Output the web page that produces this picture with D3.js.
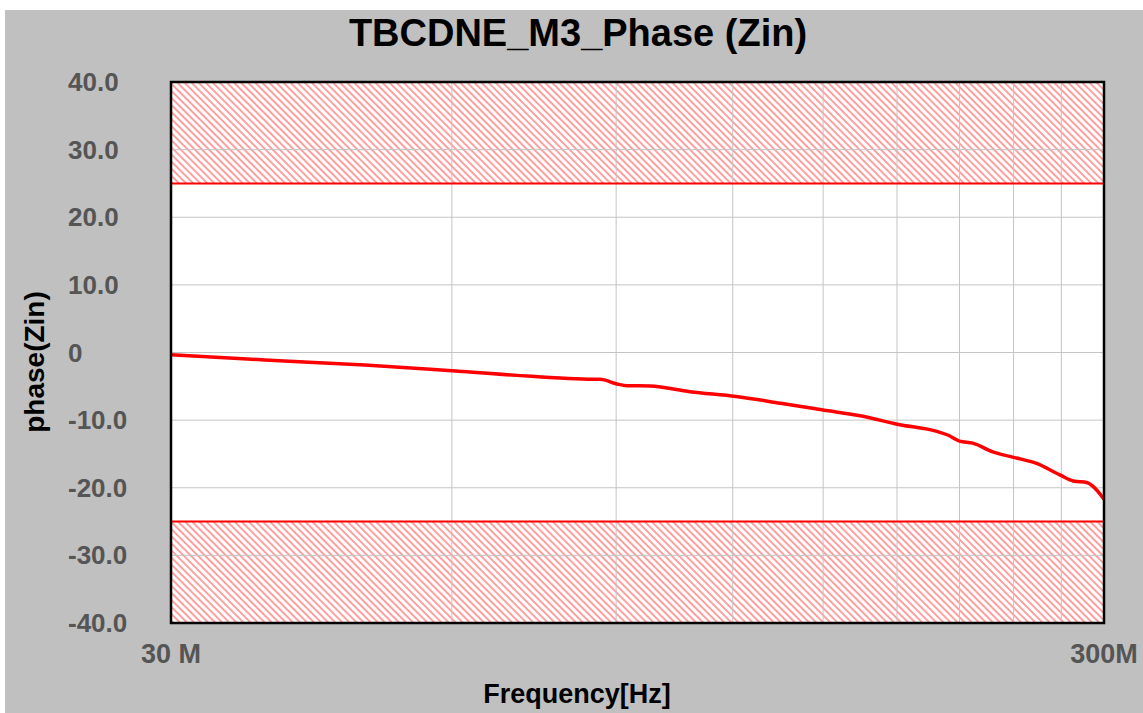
<!DOCTYPE html>
<html>
<head>
<meta charset="utf-8">
<script src="https://cdn.jsdelivr.net/npm/d3@7"></script>
<style>
html,body{margin:0;padding:0;background:#fff;}
svg{display:block;font-family:"Liberation Sans",Arial,sans-serif;}
</style>
</head>
<body>
<svg id="chart" width="1143" height="713"></svg>
<script>
// ---- data ----
const titleText = "TBCDNE_M3_Phase (Zin)";
const xTitle = "Frequency[Hz]";
const yTitle = "phase(Zin)";
const freqMHz = [30, 37.8, 48.4, 60, 76.4, 83.8, 86.5, 90.2, 92.5, 97.9, 108, 121, 135, 150, 165, 180, 199, 204, 210, 217, 228, 240, 254, 269, 278, 288, 292, 300];
const phaseDeg = [-0.35, -1.1, -1.85, -2.7, -3.7, -3.95, -3.95, -4.65, -4.9, -4.95, -5.8, -6.5, -7.5, -8.5, -9.4, -10.6, -11.7, -12.2, -13.1, -13.4, -14.7, -15.5, -16.4, -18.1, -19.0, -19.25, -19.8, -21.7];
const yTicks = [40, 30, 20, 10, 0, -10, -20, -30, -40];
const yTickLabels = ["40.0", "30.0", "20.0", "10.0", "0", "-10.0", "-20.0", "-30.0", "-40.0"];
const xGridMHz = [60, 90, 120, 150, 180, 210, 240, 270];
const xTickMHz = [30, 300];
const xTickLabels = ["30 M", "300M"];
const limitUpper = 25, limitLower = -25;

// ---- layout ----
const svg = d3.select("#chart");
const L = 171, R = 1104, T = 82, B = 623;
const x = d3.scaleLog().domain([30e6, 300e6]).range([L, R]);
const y = d3.scaleLinear().domain([-40, 40]).range([B, T]);

// background
svg.append("rect").attr("x", 5).attr("y", 10).attr("width", 1138).attr("height", 703).attr("fill", "#c0c0c0");
svg.append("rect").attr("x", L).attr("y", T).attr("width", R - L).attr("height", B - T).attr("fill", "#fff");

// hatch pattern
const defs = svg.append("defs");
const pat = defs.append("pattern").attr("id", "hatch").attr("patternUnits", "userSpaceOnUse")
  .attr("width", 5).attr("height", 5).attr("patternTransform", "rotate(-45)");
pat.append("line").attr("x1", 2).attr("y1", 0).attr("x2", 2).attr("y2", 5)
  .attr("stroke", "#ff3030").attr("stroke-width", 1.1).attr("stroke-opacity", 0.85);

svg.append("rect").attr("x", L).attr("y", y(40)).attr("width", R - L).attr("height", y(limitUpper) - y(40)).attr("fill", "url(#hatch)");
svg.append("rect").attr("x", L).attr("y", y(limitLower)).attr("width", R - L).attr("height", y(-40) - y(limitLower)).attr("fill", "url(#hatch)");

// grid
svg.append("g").selectAll("line").data(xGridMHz).join("line")
  .attr("x1", d => x(d * 1e6)).attr("x2", d => x(d * 1e6)).attr("y1", T).attr("y2", B)
  .attr("stroke", "#c4c4c4").attr("stroke-width", 1);
svg.append("g").selectAll("line").data(yTicks).join("line")
  .attr("x1", L).attr("x2", R).attr("y1", d => y(d)).attr("y2", d => y(d))
  .attr("stroke", "#c4c4c4").attr("stroke-width", 1);

// limit lines
[limitUpper, limitLower].forEach(v => {
  svg.append("line").attr("x1", L).attr("x2", R).attr("y1", y(v)).attr("y2", y(v))
    .attr("stroke", "#ff0000").attr("stroke-width", 2);
});

// curve
const pts = freqMHz.map((f, i) => [f * 1e6, phaseDeg[i]]);
const line = d3.line().x(d => x(d[0])).y(d => y(d[1])).curve(d3.curveMonotoneX);
svg.append("path").attr("d", line(pts)).attr("fill", "none")
  .attr("stroke", "#ff0000").attr("stroke-width", 3.5);

// frame
svg.append("rect").attr("x", L).attr("y", T).attr("width", R - L).attr("height", B - T)
  .attr("fill", "none").attr("stroke", "#000").attr("stroke-width", 2.5);

// y tick labels
svg.append("g").selectAll("text").data(yTicks).join("text")
  .attr("x", 68).attr("y", d => y(d)).attr("dy", "0.35em")
  .attr("font-size", 26).attr("font-weight", "bold").attr("fill", "#555")
  .text((d, i) => yTickLabels[i]);

// x tick labels
svg.append("g").selectAll("text").data(xTickMHz).join("text")
  .attr("x", d => x(d * 1e6)).attr("y", 663).attr("text-anchor", "middle")
  .attr("font-size", 27).attr("font-weight", "bold").attr("fill", "#555")
  .text((d, i) => xTickLabels[i]);

// titles
svg.append("text").attr("x", 578).attr("y", 46).attr("text-anchor", "middle")
  .attr("font-size", 38).attr("font-weight", "bold").attr("fill", "#000").text(titleText);
svg.append("text").attr("x", 577).attr("y", 703).attr("text-anchor", "middle")
  .attr("font-size", 27).attr("font-weight", "bold").attr("fill", "#000").text(xTitle);
svg.append("text").attr("transform", "translate(44,362) rotate(-90)").attr("text-anchor", "middle")
  .attr("font-size", 28).attr("font-weight", "bold").attr("fill", "#000").text(yTitle);
</script>
</body>
</html>
